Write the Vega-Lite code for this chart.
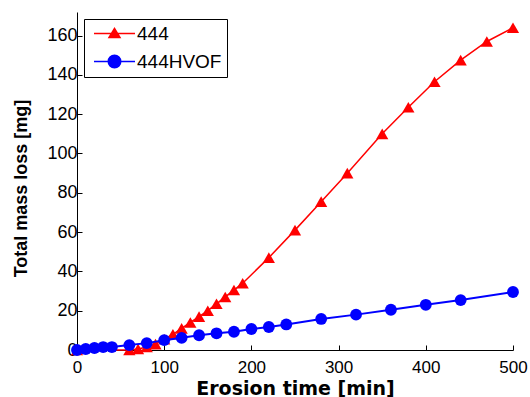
{
  "$schema": "https://vega.github.io/schema/vega-lite/v6.json",
  "width": 436,
  "height": 338,
  "autosize": {"type": "none"},
  "padding": {"left": 77, "top": 12, "right": 17, "bottom": 47},
  "background": "white",
  "config": {"view": {"stroke": null}, "font": "Liberation Sans"},
  "data": {
    "values": [
      {"series": "444", "t": 0, "v": 0},
      {"series": "444", "t": 60, "v": 0},
      {"series": "444", "t": 70, "v": 0.5},
      {"series": "444", "t": 80, "v": 1.5},
      {"series": "444", "t": 90, "v": 3},
      {"series": "444", "t": 100, "v": 5.5},
      {"series": "444", "t": 110, "v": 8},
      {"series": "444", "t": 120, "v": 11},
      {"series": "444", "t": 130, "v": 14},
      {"series": "444", "t": 140, "v": 17},
      {"series": "444", "t": 150, "v": 20},
      {"series": "444", "t": 160, "v": 23.5},
      {"series": "444", "t": 170, "v": 27},
      {"series": "444", "t": 180, "v": 30.5},
      {"series": "444", "t": 190, "v": 34},
      {"series": "444", "t": 220, "v": 47},
      {"series": "444", "t": 250, "v": 61},
      {"series": "444", "t": 280, "v": 75.5},
      {"series": "444", "t": 310, "v": 90},
      {"series": "444", "t": 350, "v": 110},
      {"series": "444", "t": 380, "v": 123.5},
      {"series": "444", "t": 410, "v": 136.5},
      {"series": "444", "t": 440, "v": 147.5},
      {"series": "444", "t": 470, "v": 157},
      {"series": "444", "t": 500, "v": 164},
      {"series": "444HVOF", "t": 0, "v": 0},
      {"series": "444HVOF", "t": 10, "v": 0.5},
      {"series": "444HVOF", "t": 20, "v": 1},
      {"series": "444HVOF", "t": 30, "v": 1.5},
      {"series": "444HVOF", "t": 40, "v": 1.5},
      {"series": "444HVOF", "t": 60, "v": 2.5},
      {"series": "444HVOF", "t": 80, "v": 3.5},
      {"series": "444HVOF", "t": 100, "v": 5},
      {"series": "444HVOF", "t": 120, "v": 6.2},
      {"series": "444HVOF", "t": 140, "v": 7.5},
      {"series": "444HVOF", "t": 160, "v": 8.5},
      {"series": "444HVOF", "t": 180, "v": 9.3},
      {"series": "444HVOF", "t": 200, "v": 10.7},
      {"series": "444HVOF", "t": 220, "v": 11.7},
      {"series": "444HVOF", "t": 240, "v": 13},
      {"series": "444HVOF", "t": 280, "v": 15.8},
      {"series": "444HVOF", "t": 320, "v": 18},
      {"series": "444HVOF", "t": 360, "v": 20.5},
      {"series": "444HVOF", "t": 400, "v": 23},
      {"series": "444HVOF", "t": 440, "v": 25.4},
      {"series": "444HVOF", "t": 500, "v": 29.5}
    ]
  },
  "encoding": {
    "x": {
      "field": "t", "type": "quantitative",
      "scale": {"domain": [0, 500], "nice": false, "zero": false},
      "axis": {
        "title": "Erosion time [min]", "values": [0, 100, 200, 300, 400, 500],
        "grid": false, "domainColor": "black", "tickColor": "black", "tickSize": -5,
        "labelFontSize": 17, "labelColor": "black", "labelPadding": 14, "labelFlush": false,
        "titleFont": "DejaVu Sans", "titleFontSize": 19, "titleFontWeight": "bold", "titleColor": "black",
        "titleBaseline": "top", "titleY": 29
      }
    },
    "y": {
      "field": "v", "type": "quantitative",
      "scale": {"domain": [0, 172], "nice": false},
      "axis": {
        "title": "Total mass loss [mg]", "values": [0, 20, 40, 60, 80, 100, 120, 140, 160],
        "grid": false, "domainColor": "black", "tickColor": "black", "tickSize": -5,
        "labelFontSize": 18, "labelColor": "black", "labelPadding": 5,
        "titleFontSize": 18, "titleFontWeight": "bold", "titleColor": "black", "titlePadding": 16,
        "titleY": 176
      }
    },
    "color": {
      "field": "series", "type": "nominal",
      "scale": {"domain": ["444", "444HVOF"], "range": ["#ff0000", "#0000ff"]},
      "legend": {
        "orient": "none", "legendX": 7, "legendY": 7, "title": null,
        "strokeColor": "black", "fillColor": "white", "padding": 5, "cornerRadius": 0,
        "symbolSize": 100, "symbolOffset": 16, "labelOffset": 13, "rowPadding": 8,
        "labelFontSize": 19, "labelColor": "black", "symbolStrokeWidth": 1.5,
        "encode": {
          "symbols": {
            "update": {
              "shape": {"signal": "datum.value === '444' ? 'M-4.1,0H4.1M-1.1,0.8L1.1,0.8L0,-1Z' : 'M-4.1,0H4.1M-1.25,0A1.25,1.25 0 1,0 1.25,0A1.25,1.25 0 1,0 -1.25,0Z'"},
              "fill": {"signal": "datum.value === '444' ? '#ff0000' : '#0000ff'"},
              "stroke": {"signal": "datum.value === '444' ? '#ff0000' : '#0000ff'"},
              "opacity": {"value": 1}
            }
          }
        }
      }
    }
  },
  "layer": [
    {
      "transform": [{"filter": "datum.series === '444'"}],
      "mark": {"type": "line", "strokeWidth": 1.5}
    },
    {
      "transform": [{"filter": "datum.series === '444'"}],
      "mark": {"type": "point", "shape": "triangle-up", "filled": true, "opacity": 1, "size": 150}
    },
    {
      "transform": [{"filter": "datum.series === '444HVOF'"}],
      "mark": {"type": "line", "strokeWidth": 2}
    },
    {
      "transform": [{"filter": "datum.series === '444HVOF'"}],
      "mark": {"type": "point", "shape": "circle", "filled": true, "opacity": 1, "size": 140}
    }
  ]
}
